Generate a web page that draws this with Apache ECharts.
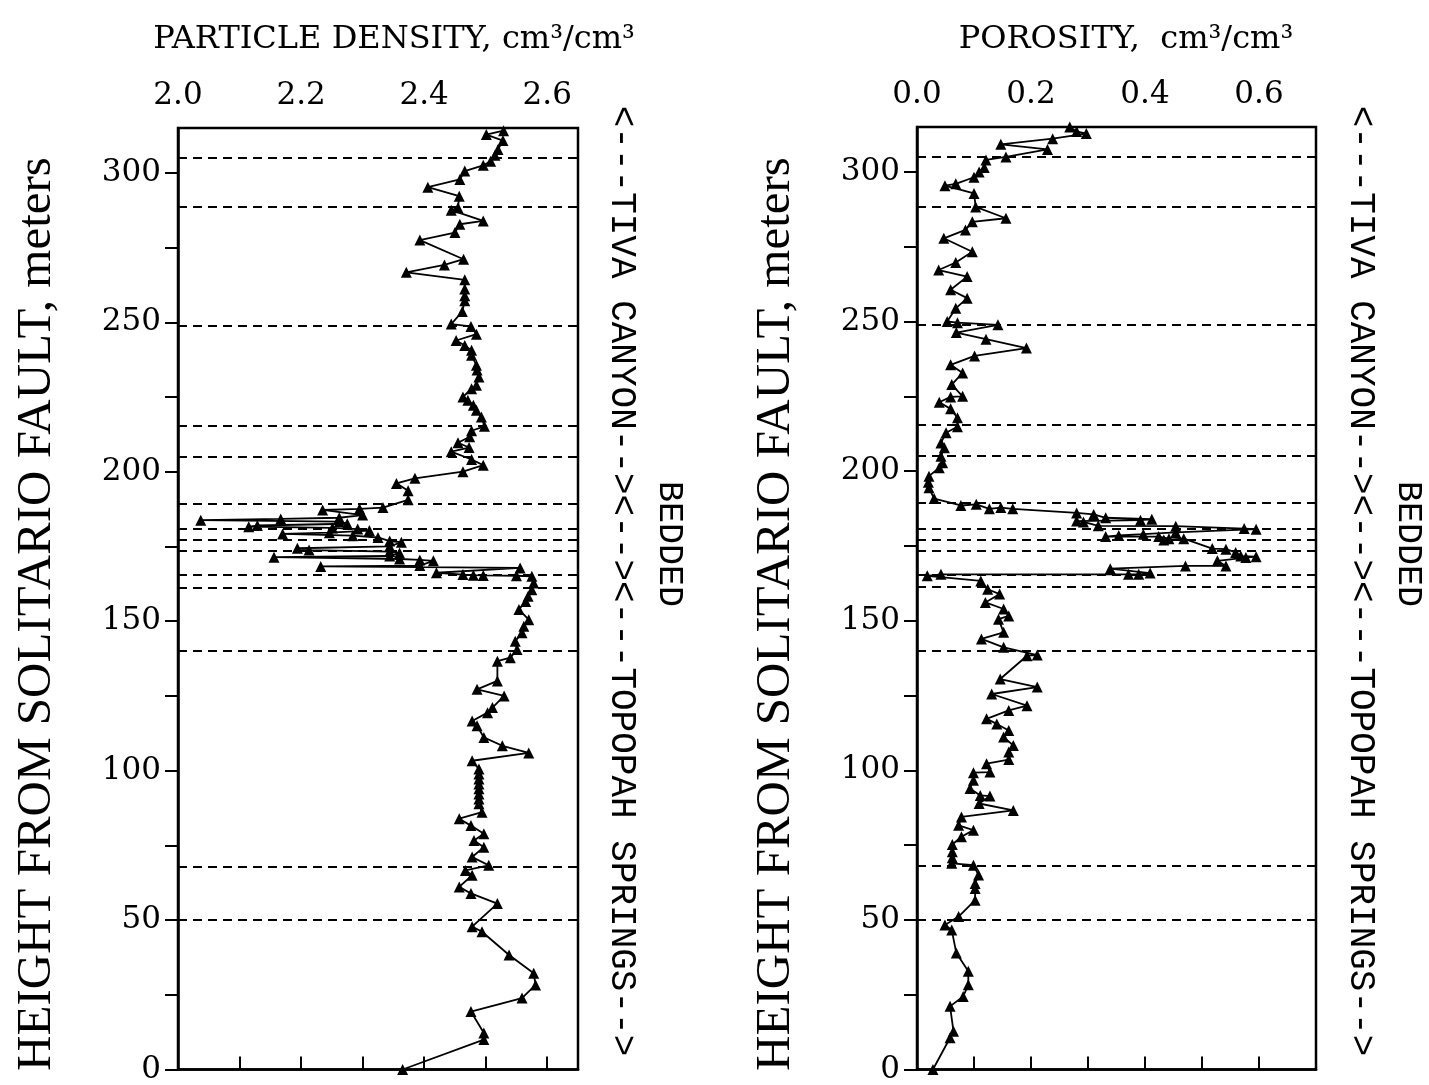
<!DOCTYPE html>
<html>
<head>
<meta charset="utf-8">
<script src="https://cdn.jsdelivr.net/npm/echarts@6/dist/echarts.min.js"></script>
<style>
html,body{margin:0;padding:0;background:#fff;}
#chart{width:1429px;height:1085px;}
</style>
</head>
<body>
<div id="chart"></div>
<script>
// ---- data (height in meters, value) ----
const densityHeight = [314.1,312.8,310.8,307.8,305.9,303.9,302.5,300.6,297.8,295.2,292.2,288.3,287.5,283.9,282.8,280.0,277.5,271.1,269.2,266.7,264.2,261.1,258.9,257.2,253.6,249.4,248.6,246.0,243.9,242.2,240.6,239.0,235.6,234.0,231.7,228.9,227.8,225.0,223.9,222.2,220.6,218.3,215.2,213.7,211.7,209.7,208.1,206.7,204.1,202.2,200.0,197.8,196.1,193.6,190.6,
  188.0,187.6,187.2,185.5,184.6,184.2,183.8,183.3,182.6,182.0,181.6,181.2,180.8,180.3,179.6,179.2,178.6,178.0,176.8,176.4,175.0,174.4,173.8,173.3,172.8,171.8,171.4,170.8,170.5,170.2,168.6,168.3,167.8,166.2,165.6,165.4,165.3,165.2,165.0,
  162.8,160.5,158.3,156.6,153.9,150.5,148.3,146.1,143.3,140.5,137.8,136.6,130.0,127.2,125.0,121.1,119.4,116.6,115.0,111.1,108.3,105.9,103.3,100.5,98.9,97.2,95.5,93.9,92.2,90.5,88.9,86.1,83.9,81.6,78.9,76.6,74.4,71.1,68.3,66.6,65.0,61.1,58.9,55.5,47.8,46.1,38.3,32.2,28.3,23.9,19.4,12.2,10.0,0.0];
const densityValue = [2.529,2.501,2.528,2.520,2.515,2.508,2.496,2.466,2.458,2.406,2.457,2.455,2.444,2.496,2.458,2.450,2.393,2.464,2.433,2.371,2.466,2.466,2.466,2.466,2.462,2.444,2.476,2.485,2.452,2.466,2.477,2.477,2.485,2.486,2.489,2.485,2.477,2.463,2.471,2.480,2.485,2.493,2.498,2.477,2.474,2.455,2.473,2.444,2.477,2.496,2.463,2.385,2.355,2.374,2.374,
  2.333,2.295,2.235,2.300,2.262,2.167,2.037,2.262,2.275,2.129,2.115,2.251,2.292,2.311,2.246,2.170,2.284,2.325,2.344,2.363,2.344,2.194,2.213,2.344,2.360,2.344,2.156,2.360,2.393,2.415,2.393,2.232,2.556,2.420,2.463,2.480,2.496,2.550,2.575,
  2.578,2.575,2.569,2.565,2.554,2.570,2.562,2.559,2.548,2.551,2.540,2.519,2.519,2.486,2.530,2.511,2.503,2.478,2.486,2.497,2.527,2.570,2.478,2.489,2.489,2.489,2.489,2.489,2.489,2.489,2.489,2.494,2.457,2.476,2.497,2.481,2.497,2.478,2.505,2.467,2.478,2.457,2.476,2.519,2.478,2.494,2.538,2.578,2.581,2.559,2.476,2.497,2.497,2.365];

const porosityHeight = [315.0,313.5,312.8,311.1,309.2,307.5,305.0,304.0,301.5,300.0,298.2,296.0,295.4,292.8,288.3,284.5,283.3,280.6,277.8,273.3,269.7,267.2,265.0,260.6,257.8,254.4,250.0,249.6,248.9,246.3,244.1,241.1,238.5,235.5,232.8,228.9,225.0,224.8,223.0,220.8,217.8,214.8,212.8,209.4,207.8,205.0,202.8,201.1,198.3,196.3,194.4,190.8,
  188.5,188.9,187.4,187.8,187.4,186.0,185.5,184.4,183.9,183.6,183.3,183.0,181.7,181.6,180.8,180.6,179.5,178.9,178.5,178.1,178.1,177.4,177.0,177.4,174.1,173.9,172.8,171.6,171.4,171.1,170.0,168.3,168.3,167.4,165.9,165.5,165.5,165.5,165.0,
  163.3,160.5,158.9,156.1,153.9,151.6,150.5,146.1,143.9,141.1,138.5,138.3,130.5,127.8,125.5,121.6,120.0,117.2,115.5,113.3,111.1,108.3,106.1,103.6,102.2,99.4,99.2,96.7,93.9,91.6,91.4,88.9,86.6,84.4,81.6,80.0,77.8,75.2,72.8,70.8,68.9,68.3,65.0,62.2,60.5,56.6,51.1,48.3,46.6,38.9,32.8,28.3,24.4,21.1,12.8,10.6,0.0];
const porosityValue = [0.268,0.280,0.297,0.238,0.147,0.229,0.156,0.121,0.118,0.109,0.100,0.068,0.049,0.100,0.103,0.156,0.097,0.085,0.047,0.097,0.068,0.038,0.088,0.059,0.088,0.068,0.053,0.071,0.142,0.069,0.121,0.192,0.101,0.059,0.080,0.061,0.080,0.059,0.039,0.059,0.071,0.071,0.051,0.042,0.048,0.042,0.045,0.039,0.021,0.020,0.021,0.030,
  0.077,0.104,0.127,0.147,0.168,0.280,0.310,0.331,0.412,0.392,0.280,0.292,0.318,0.454,0.574,0.595,0.454,0.397,0.354,0.331,0.424,0.442,0.433,0.468,0.518,0.542,0.559,0.568,0.595,0.577,0.527,0.542,0.471,0.339,0.409,0.389,0.371,0.042,0.018,
  0.112,0.124,0.145,0.120,0.152,0.161,0.143,0.152,0.113,0.152,0.211,0.193,0.146,0.211,0.131,0.193,0.161,0.122,0.140,0.161,0.152,0.169,0.161,0.161,0.122,0.128,0.099,0.099,0.093,0.111,0.128,0.109,0.169,0.078,0.073,0.099,0.078,0.062,0.062,0.062,0.061,0.099,0.108,0.102,0.102,0.102,0.073,0.049,0.061,0.069,0.090,0.090,0.081,0.058,0.064,0.058,0.028];

const contactHeights = [305, 288.5, 249, 215.5, 205, 189.3, 180.8, 177.2, 173.4, 165.5, 161.2, 140, 68, 50];

const densityTicks = [2.0, 2.1, 2.2, 2.3, 2.4, 2.5, 2.6];
const densityLabels = [2.0, 2.2, 2.4, 2.6];
const porosityTicks = [0.0, 0.1, 0.2, 0.3, 0.4, 0.5, 0.6, 0.7];
const porosityLabels = [0.0, 0.2, 0.4, 0.6];
const heightTicks = [0, 25, 50, 75, 100, 125, 150, 175, 200, 225, 250, 275, 300];
const heightLabels = [0, 50, 100, 150, 200, 250, 300];

const leftTitle = 'PARTICLE DENSITY, cm\u00b3/cm\u00b3';
const rightTitle = 'POROSITY,  cm\u00b3/cm\u00b3';
const yTitle = 'HEIGHT FROM SOLITARIO FAULT, meters';
const unitText = '<---TIVA CANYON--><--><---TOPOPAH SPRINGS-->';
const beddedText = 'BEDDED';

// ---- chart ----
const serif = 'DejaVu Serif';
const labelFont = {fontFamily: serif, fontSize: 31, color: '#000'};

function xAxisDef(gi, min, max, ticks, labels) {
  return {
    gridIndex: gi, type: 'value', position: 'top', min: min, max: max,
    axisLine: {show: true, lineStyle: {color: '#000', width: 2.5}},
    axisTick: {show: true, inside: false, length: 13, customValues: ticks, lineStyle: {color: '#000', width: 2}},
    axisLabel: Object.assign({margin: 17, customValues: labels, formatter: v => Number(v).toFixed(1)}, labelFont),
    splitLine: {show: false}
  };
}
function yAxisDef(gi) {
  return {
    gridIndex: gi, type: 'value', min: 0, max: 315,
    axisLine: {show: true, lineStyle: {color: '#000', width: 2.5}},
    axisTick: {show: true, inside: false, length: 13, customValues: heightTicks, lineStyle: {color: '#000', width: 2}},
    axisLabel: Object.assign({margin: 17, customValues: heightLabels, formatter: v => String(Math.round(v))}, labelFont),
    splitLine: {show: false}
  };
}
function seriesDef(gi, xs, ys) {
  return {
    type: 'line', xAxisIndex: gi, yAxisIndex: gi,
    data: xs.map((v, i) => [v, ys[i]]),
    symbol: 'triangle', symbolSize: 11, showSymbol: true,
    itemStyle: {color: '#000'},
    lineStyle: {color: '#000', width: 1.8},
    animation: false, silent: true,
    markLine: {
      silent: true, symbol: 'none', animation: false,
      label: {show: false},
      lineStyle: {color: '#000', width: 2.2, type: [9, 6]},
      data: contactHeights.map(h => ({yAxis: h}))
    }
  };
}
function vtext(x, y, text, rot, font, size) {
  return {type: 'text', x: x, y: y, rotation: rot, silent: true,
    style: {text: text, x: 0, y: 0, align: 'center', verticalAlign: 'middle',
      fontFamily: font, fontSize: size, fill: '#000'}};
}

const chart = echarts.init(document.getElementById('chart'), null, {renderer: 'canvas'});
chart.setOption({
  backgroundColor: '#fff',
  animation: false,
  grid: [
    {left: 178, top: 128, width: 400, height: 944, show: true, borderColor: '#000', borderWidth: 2.5, backgroundColor: 'transparent'},
    {left: 917, top: 127, width: 399, height: 945, show: true, borderColor: '#000', borderWidth: 2.5, backgroundColor: 'transparent'}
  ],
  xAxis: [
    xAxisDef(0, 2.0, 2.65, densityTicks, densityLabels),
    xAxisDef(1, 0.0, 0.7, porosityTicks, porosityLabels)
  ],
  yAxis: [yAxisDef(0), yAxisDef(1)],
  series: [
    seriesDef(0, densityValue, densityHeight),
    seriesDef(1, porosityValue, porosityHeight)
  ],
  graphic: [
    vtext(394, 40, leftTitle, 0, serif, 32),
    vtext(1126, 40, rightTitle, 0, serif, 32),
    vtext(37, 614, yTitle, Math.PI / 2, 'Liberation Serif', 49),
    vtext(776, 614, yTitle, Math.PI / 2, 'Liberation Serif', 49),
    vtext(622, 581, unitText, -Math.PI / 2, 'Liberation Mono', 36),
    vtext(1361, 581, unitText, -Math.PI / 2, 'Liberation Mono', 36),
    vtext(669, 544, beddedText, -Math.PI / 2, 'Liberation Mono', 35),
    vtext(1408, 544, beddedText, -Math.PI / 2, 'Liberation Mono', 35)
  ]
});
</script>
</body>
</html>
